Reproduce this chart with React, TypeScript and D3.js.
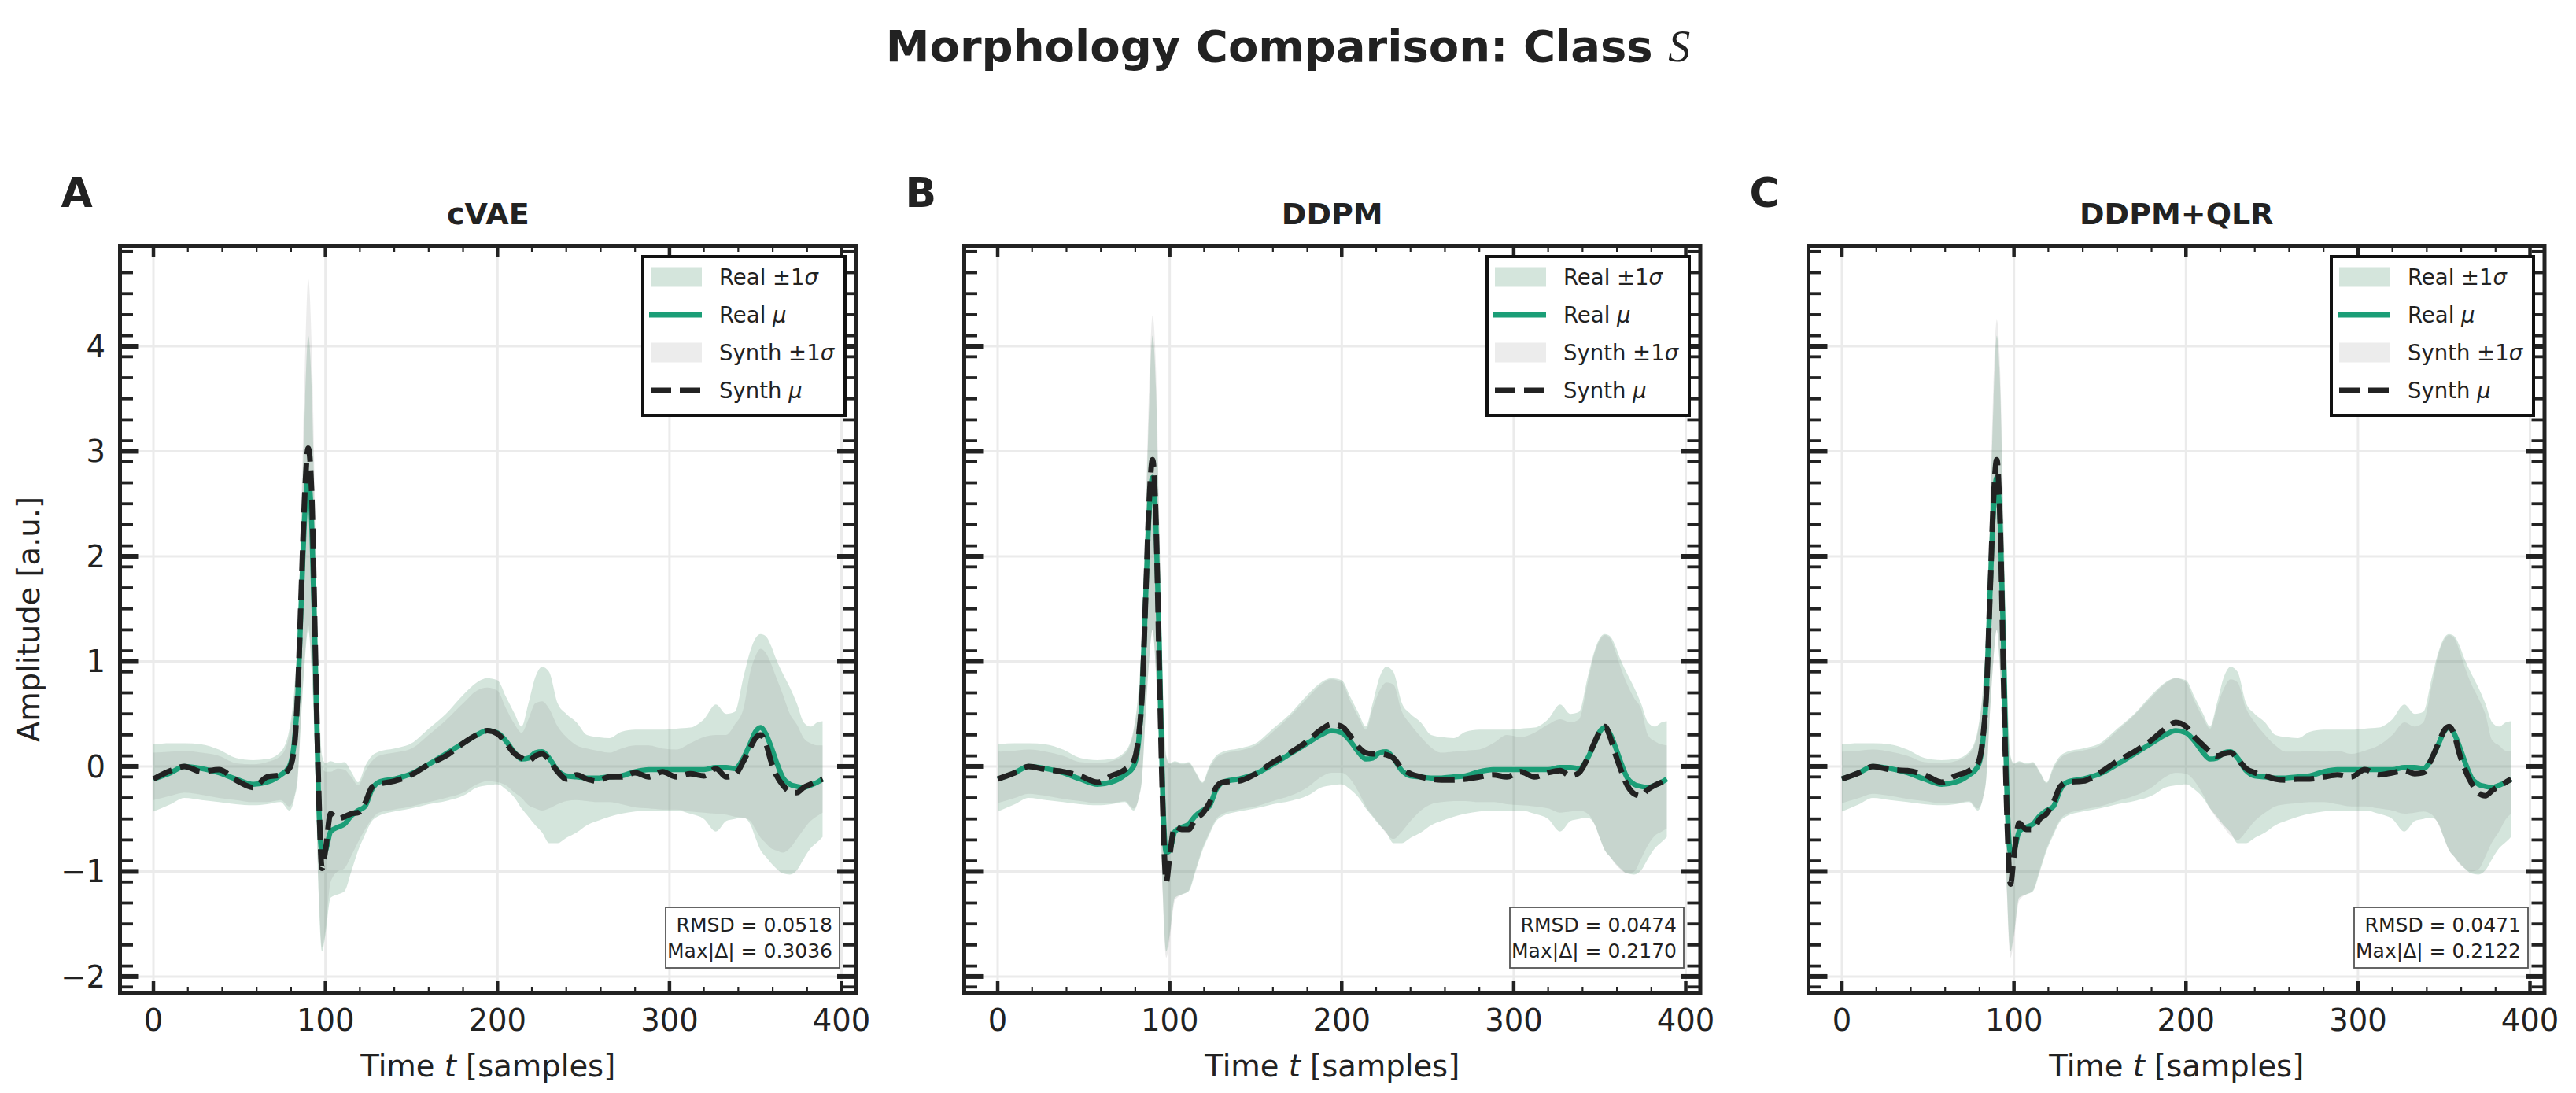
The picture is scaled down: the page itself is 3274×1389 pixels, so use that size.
import React from "react";
import * as d3 from "d3";

// ---- knot times (samples) shared by every series ----
const T = [
  0, 10, 18, 28, 38, 48, 58, 66, 74, 79,
  82, 84, 86, 88, 90, 92, 94, 96, 98, 100,
  103, 107, 111, 115, 119, 123, 127, 131, 140, 150,
  160, 170, 180, 188, 194, 200, 205, 210, 214, 218,
  222, 226, 230, 235, 240, 246, 252, 258, 265, 272,
  280, 288, 296, 304, 312, 320, 327, 333, 338, 343,
  347, 350, 353, 356, 359, 362, 366, 370, 374, 378,
  382, 386, 389,
];

// ---- real beats (same in every panel) ----
const REAL_MEAN = [
  -0.12, -0.06, 0.0, -0.02, -0.06, -0.12, -0.17, -0.15, -0.08, 0.0,
  0.25, 0.7, 1.6, 2.4, 2.75, 2.3, 1.1, -0.3, -0.82, -0.8,
  -0.62, -0.58, -0.55, -0.47, -0.42, -0.38, -0.22, -0.15, -0.12, -0.07,
  0.02, 0.12, 0.22, 0.3, 0.34, 0.32, 0.24, 0.13, 0.07, 0.08,
  0.13, 0.14, 0.08, -0.04, -0.09, -0.1, -0.11, -0.11, -0.1, -0.09,
  -0.05, -0.03, -0.03, -0.03, -0.03, -0.03, -0.01, -0.01, -0.02, 0.08,
  0.22, 0.33, 0.37, 0.31, 0.19, 0.05, -0.11, -0.17, -0.19, -0.2,
  -0.18, -0.15, -0.12,
];
const REAL_HI = [
  0.21, 0.22, 0.22, 0.21, 0.16, 0.08, 0.06, 0.07, 0.14, 0.35,
  0.75, 1.25, 2.3, 3.4, 4.1, 3.6, 2.2, 0.8, 0.1, 0.03,
  0.05, 0.03, 0.04, -0.05, -0.15, 0.0, 0.1, 0.14, 0.17, 0.22,
  0.36, 0.5, 0.68, 0.8, 0.84, 0.82, 0.66, 0.5, 0.38, 0.6,
  0.85, 0.95, 0.9, 0.6, 0.5, 0.42, 0.3, 0.28, 0.27, 0.33,
  0.35, 0.35, 0.35, 0.36, 0.37, 0.45, 0.59, 0.5, 0.52, 0.85,
  1.1, 1.22, 1.26, 1.24, 1.15, 1.02, 0.88, 0.75, 0.6, 0.42,
  0.38, 0.42, 0.43,
];
const REAL_LO = [
  -0.43, -0.36, -0.3, -0.32, -0.34, -0.36, -0.37, -0.36, -0.34, -0.42,
  -0.3, -0.1, 0.5, 1.0, 1.3, 0.9, 0.1, -1.2, -1.76, -1.6,
  -1.25, -1.22, -1.19, -1.0, -0.8, -0.65, -0.52, -0.47, -0.43, -0.4,
  -0.36, -0.33, -0.28, -0.2, -0.18, -0.17, -0.22, -0.3, -0.4, -0.48,
  -0.56, -0.63, -0.73, -0.73, -0.68, -0.63, -0.56, -0.52, -0.48, -0.45,
  -0.43, -0.42, -0.42, -0.42, -0.45, -0.5, -0.62, -0.52, -0.5, -0.49,
  -0.55, -0.68, -0.8, -0.86, -0.92, -0.97, -1.02, -1.03, -0.99, -0.88,
  -0.78, -0.72, -0.67,
];

// ---- cVAE synthetic ----
const CVAE_MEAN = [
  -0.12, -0.04, 0.0, -0.05, -0.03, -0.13, -0.2, -0.1, -0.08, -0.02,
  0.2, 0.75, 1.7, 2.6, 3.03, 2.6, 1.2, -0.2, -0.97, -0.8,
  -0.45, -0.5, -0.48, -0.45, -0.44, -0.35, -0.2, -0.17, -0.14, -0.08,
  0.02, 0.1, 0.22, 0.3, 0.34, 0.31, 0.22, 0.12, 0.08, 0.05,
  0.1, 0.12, 0.06, -0.05, -0.12, -0.08, -0.12, -0.14, -0.1, -0.1,
  -0.06, -0.1, -0.05, -0.1, -0.07, -0.09, -0.02, -0.1, -0.08, 0.05,
  0.18, 0.27, 0.3, 0.22, 0.05, -0.08, -0.18, -0.24, -0.25, -0.2,
  -0.17, -0.14, -0.12,
];
const CVAE_HI = [
  0.13, 0.14, 0.15, 0.13, 0.1, 0.03, 0.02, 0.04, 0.1, 0.3,
  0.7, 1.3, 2.5, 3.8, 4.64, 4.0, 2.4, 0.6, 0.0, -0.05,
  -0.05, -0.02, -0.03, -0.1, -0.18, -0.05, 0.05, 0.1, 0.13, 0.17,
  0.3, 0.44, 0.6, 0.72, 0.75, 0.72, 0.55, 0.4, 0.32, 0.45,
  0.6, 0.62, 0.55, 0.38, 0.28, 0.2, 0.17, 0.15, 0.13, 0.17,
  0.2, 0.2, 0.17, 0.16, 0.22, 0.28, 0.3, 0.3, 0.4, 0.55,
  0.9, 1.05, 1.12, 1.08, 0.98, 0.85, 0.68, 0.5, 0.4, 0.27,
  0.22, 0.2, 0.2,
];
const CVAE_LO = [
  -0.32, -0.28, -0.25, -0.27, -0.3, -0.32, -0.34, -0.34, -0.32, -0.38,
  -0.28, -0.05, 0.55, 1.05, 1.35, 0.95, 0.15, -1.1, -1.72, -1.55,
  -1.1, -1.0, -0.97, -0.85, -0.72, -0.6, -0.5, -0.44, -0.41, -0.38,
  -0.34, -0.3, -0.25, -0.17, -0.14, -0.15, -0.18, -0.25, -0.3, -0.37,
  -0.4, -0.42, -0.4, -0.36, -0.33, -0.32, -0.33, -0.34, -0.34, -0.36,
  -0.39, -0.4, -0.41, -0.41, -0.43, -0.44, -0.45, -0.46, -0.48, -0.49,
  -0.52, -0.6, -0.68, -0.73, -0.78, -0.8, -0.82, -0.78, -0.69, -0.6,
  -0.52, -0.47, -0.44,
];

// ---- DDPM synthetic ----
const DDPM_MEAN = [
  -0.12, -0.06, 0.0, -0.03, -0.05, -0.09, -0.15, -0.09, -0.03, 0.05,
  0.3, 0.7, 1.6, 2.5, 2.92, 2.35, 0.9, -0.4, -1.1, -0.85,
  -0.57, -0.6, -0.6, -0.5, -0.45, -0.35, -0.2, -0.15, -0.14, -0.07,
  0.04, 0.13, 0.24, 0.35, 0.4, 0.38, 0.29, 0.18, 0.13, 0.12,
  0.12, 0.11, 0.08, -0.02, -0.07, -0.1, -0.12, -0.13, -0.13, -0.12,
  -0.1, -0.08, -0.1, -0.05, -0.1, -0.06, -0.04, -0.09, -0.06, 0.08,
  0.23, 0.33, 0.38, 0.28, 0.12, -0.02, -0.18, -0.26, -0.28, -0.22,
  -0.18, -0.15, -0.12,
];
const DDPM_HI = [
  0.14, 0.15, 0.16, 0.14, 0.1, 0.04, 0.03, 0.05, 0.12, 0.32,
  0.72, 1.28, 2.4, 3.6, 4.29, 3.8, 2.3, 0.7, 0.08, 0.02,
  0.04, 0.02, 0.03, -0.06, -0.16, -0.02, 0.08, 0.12, 0.15, 0.2,
  0.33, 0.48, 0.65, 0.78, 0.83, 0.8, 0.62, 0.46, 0.35, 0.55,
  0.72, 0.8, 0.78, 0.52, 0.4, 0.28, 0.18, 0.13, 0.14, 0.15,
  0.16, 0.22, 0.3, 0.28, 0.32, 0.4, 0.45, 0.42, 0.45, 0.8,
  1.08, 1.2, 1.25, 1.22, 1.1, 0.95, 0.78, 0.65, 0.55, 0.3,
  0.24, 0.21, 0.2,
];
const DDPM_LO = [
  -0.35, -0.3, -0.26, -0.28, -0.31, -0.33, -0.35, -0.35, -0.33, -0.4,
  -0.3, -0.08, 0.5, 1.0, 1.3, 0.9, 0.1, -1.25, -1.82, -1.65,
  -1.28, -1.22, -1.18, -0.98, -0.78, -0.63, -0.5, -0.45, -0.41, -0.38,
  -0.33, -0.28, -0.2, -0.1, -0.06, -0.06, -0.12, -0.25, -0.38, -0.47,
  -0.55, -0.64, -0.69, -0.62, -0.52, -0.42, -0.36, -0.34, -0.33, -0.33,
  -0.34, -0.34, -0.36, -0.37, -0.38, -0.4, -0.44, -0.43, -0.42, -0.45,
  -0.55, -0.68, -0.8, -0.86, -0.93, -0.98, -1.02, -1.0, -0.88, -0.75,
  -0.66, -0.62, -0.59,
];

// ---- DDPM+QLR synthetic ----
const QLR_MEAN = [
  -0.12, -0.06, 0.0, -0.03, -0.04, -0.08, -0.15, -0.09, -0.04, 0.03,
  0.28, 0.7, 1.6, 2.5, 2.92, 2.3, 0.8, -0.5, -1.12, -0.85,
  -0.54, -0.6, -0.6, -0.5, -0.45, -0.34, -0.19, -0.15, -0.14, -0.06,
  0.05, 0.14, 0.25, 0.36, 0.42, 0.38, 0.28, 0.2, 0.14, 0.1,
  0.12, 0.13, 0.07, -0.02, -0.06, -0.09, -0.12, -0.13, -0.12, -0.12,
  -0.1, -0.08, -0.1, -0.03, -0.08, -0.06, -0.04, -0.07, -0.06, 0.08,
  0.23, 0.34, 0.38, 0.3, 0.12, -0.02, -0.16, -0.25, -0.28, -0.23,
  -0.19, -0.15, -0.12,
];
const QLR_HI = [
  0.14, 0.15, 0.16, 0.14, 0.1, 0.04, 0.03, 0.05, 0.12, 0.32,
  0.72, 1.28, 2.4, 3.6, 4.25, 3.75, 2.3, 0.7, 0.08, 0.02,
  0.04, 0.02, 0.03, -0.06, -0.16, -0.02, 0.08, 0.12, 0.15, 0.2,
  0.34, 0.49, 0.66, 0.79, 0.84, 0.8, 0.62, 0.46, 0.36, 0.56,
  0.74, 0.83, 0.8, 0.55, 0.42, 0.3, 0.2, 0.14, 0.14, 0.15,
  0.14, 0.15, 0.12, 0.15, 0.2, 0.3, 0.42, 0.38, 0.42, 0.78,
  1.08, 1.2, 1.25, 1.22, 1.1, 0.95, 0.78, 0.65, 0.5, 0.25,
  0.2, 0.15, 0.15,
];
const QLR_LO = [
  -0.35, -0.3, -0.26, -0.28, -0.31, -0.33, -0.35, -0.35, -0.33, -0.4,
  -0.3, -0.08, 0.5, 1.0, 1.3, 0.9, 0.1, -1.25, -1.82, -1.65,
  -1.28, -1.22, -1.18, -0.98, -0.78, -0.63, -0.5, -0.45, -0.41, -0.38,
  -0.33, -0.28, -0.2, -0.1, -0.06, -0.07, -0.14, -0.27, -0.4, -0.5,
  -0.58, -0.66, -0.7, -0.62, -0.52, -0.44, -0.38, -0.36, -0.35, -0.34,
  -0.34, -0.36, -0.38, -0.38, -0.4, -0.42, -0.45, -0.44, -0.43, -0.46,
  -0.56, -0.68, -0.8, -0.86, -0.93, -0.97, -1.0, -0.98, -0.86, -0.72,
  -0.62, -0.5, -0.45,
];

const LETTERS = ["A", "B", "C"];
const TITLES = ["cVAE", "DDPM", "DDPM+QLR"];
const RMSD = ["0.0518", "0.0474", "0.0471"];
const MAXD = ["0.3036", "0.2170", "0.2122"];
const X_TICKS = [0, 100, 200, 300, 400];
const Y_TICKS = [-2, -1, 0, 1, 2, 3, 4];

const SYNTH = [
  { mean: CVAE_MEAN, lo: CVAE_LO, hi: CVAE_HI },
  { mean: DDPM_MEAN, lo: DDPM_LO, hi: DDPM_HI },
  { mean: QLR_MEAN, lo: QLR_LO, hi: QLR_HI },
];

// ---- layout ----
const W = 3274;
const H = 1389;
const FONT = "'DejaVu Sans', sans-serif";
const INK = "#222222";
const GREEN = "#1b9e77";
const PANEL_LEFT = [152.5, 1225.5, 2298.5];
const PLOT_W = 935.5;
const TOP = 312.5;
const BOTTOM = 1261.5;

function Panel({ i }) {
  const left = PANEL_LEFT[i];
  const right = left + PLOT_W;
  const cx = (left + right) / 2;
  const x = d3.scaleLinear().domain([-19.45, 408.45]).range([left, right]);
  const y = d3.scaleLinear().domain([-2.154, 4.955]).range([BOTTOM, TOP]);
  const idx = d3.range(T.length);
  const s = SYNTH[i];

  const band = (lo, hi) =>
    d3.area().x((k) => x(T[k])).y0((k) => y(lo[k])).y1((k) => y(hi[k]))
      .curve(d3.curveMonotoneX)(idx);
  const line = (m) =>
    d3.line().x((k) => x(T[k])).y((k) => y(m[k])).curve(d3.curveMonotoneX)(idx);

  const xMinor = d3.range(-20, 420, 20).filter((v) => v > -19 && v < 408 && v % 100 !== 0);
  const yMinor = d3.range(-21, 50, 2).map((v) => v / 10).filter((v) => v > -2.15 && v < 4.95 && Math.abs(v - Math.round(v)) > 0.01);

  // legend geometry
  const lgR = right - 14;
  const lgW = 257;
  const lgL = lgR - lgW;
  const lgT = TOP + 13.5;
  const rows = [26, 74, 122, 170].map((d) => lgT + d);

  // stats box
  const sbR = right - 21;
  const sbB = BOTTOM - 31.5;
  const sbW = 221;
  const sbH = 77;

  const clipId = `clip${i}`;
  return (
    <g>
      <defs>
        <clipPath id={clipId}>
          <rect x={left} y={TOP} width={PLOT_W} height={BOTTOM - TOP} />
        </clipPath>
      </defs>

      {/* grid */}
      <g stroke="#ebebeb" strokeWidth={3}>
        {X_TICKS.map((t) => (
          <line key={"gx" + t} x1={x(t)} x2={x(t)} y1={TOP} y2={BOTTOM} />
        ))}
        {Y_TICKS.map((t) => (
          <line key={"gy" + t} x1={left} x2={right} y1={y(t)} y2={y(t)} />
        ))}
      </g>

      {/* bands and means */}
      <g clipPath={`url(#${clipId})`}>
        <path d={band(REAL_LO, REAL_HI)} fill="#5f9e7e" fillOpacity={0.27} />
        <path d={band(s.lo, s.hi)} fill="#777777" fillOpacity={0.14} />
        <path d={line(REAL_MEAN)} fill="none" stroke={GREEN} strokeWidth={6.5} strokeLinejoin="round" />
        <path d={line(s.mean)} fill="none" stroke={INK} strokeWidth={7} strokeDasharray="26 11" />
      </g>

      {/* ticks */}
      <g stroke={INK}>
        {X_TICKS.map((t) => (
          <g key={"xt" + t} strokeWidth={4.5}>
            <line x1={x(t)} x2={x(t)} y1={BOTTOM} y2={BOTTOM - 14.5} />
            <line x1={x(t)} x2={x(t)} y1={TOP} y2={TOP + 14.5} />
          </g>
        ))}
        {xMinor.map((t) => (
          <g key={"xm" + t} strokeWidth={2.2}>
            <line x1={x(t)} x2={x(t)} y1={BOTTOM} y2={BOTTOM - 7.5} />
            <line x1={x(t)} x2={x(t)} y1={TOP} y2={TOP + 7.5} />
          </g>
        ))}
        {Y_TICKS.map((t) => (
          <g key={"yt" + t} strokeWidth={6}>
            <line x1={left} x2={left + 24} y1={y(t)} y2={y(t)} />
            <line x1={right} x2={right - 24} y1={y(t)} y2={y(t)} />
          </g>
        ))}
        {yMinor.map((t) => (
          <g key={"ym" + t} strokeWidth={3.8}>
            <line x1={left} x2={left + 16.5} y1={y(t)} y2={y(t)} />
            <line x1={right} x2={right - 16.5} y1={y(t)} y2={y(t)} />
          </g>
        ))}
      </g>

      {/* spines */}
      <rect x={left} y={TOP} width={PLOT_W} height={BOTTOM - TOP} fill="none" stroke={INK} strokeWidth={5} />

      {/* tick labels */}
      <g fontSize={38.5} fill={INK} textAnchor="middle">
        {X_TICKS.map((t) => (
          <text key={"xl" + t} x={x(t)} y={1310}>{t}</text>
        ))}
      </g>
      {i === 0 && (
        <g fontSize={38.5} fill={INK} textAnchor="end">
          {Y_TICKS.map((t) => (
            <text key={"yl" + t} x={134} y={y(t) + 14}>{t < 0 ? "\u2212" + Math.abs(t) : t}</text>
          ))}
        </g>
      )}

      {/* axis labels */}
      <text x={cx} y={1368} fontSize={38.5} fill={INK} textAnchor="middle">
        Time <tspan fontStyle="italic">t</tspan> [samples]
      </text>
      {i === 0 && (
        <text transform={`translate(36,${(TOP + BOTTOM) / 2}) rotate(-90)`} fontSize={38.5} fill={INK} textAnchor="middle" dominantBaseline="central">
          Amplitude [a.u.]
        </text>
      )}

      {/* panel title and letter */}
      <text x={cx} y={285} fontSize={38} fontWeight="bold" fill={INK} textAnchor="middle">{TITLES[i]}</text>
      <text x={left - 75} y={263} fontSize={52} fontWeight="bold" fill={INK}>{LETTERS[i]}</text>

      {/* stats box */}
      <rect x={sbR - sbW} y={sbB - sbH} width={sbW} height={sbH} fill="#fff" stroke="#555" strokeWidth={1.8} />
      <g fontSize={25} fill={INK} textAnchor="end">
        <text x={sbR - 9} y={sbB - 46}>RMSD = {RMSD[i]}</text>
        <text x={sbR - 9} y={sbB - 13}>Max|Δ| = {MAXD[i]}</text>
      </g>

      {/* legend */}
      <rect x={lgL} y={lgT} width={lgW} height={202} fill="#fff" stroke="#111" strokeWidth={4} />
      <rect x={lgL + 10} y={rows[0] - 12.5} width={65} height={25} fill="#5f9e7e" fillOpacity={0.27} />
      <line x1={lgL + 8} x2={lgL + 75} y1={rows[1]} y2={rows[1]} stroke={GREEN} strokeWidth={7} />
      <rect x={lgL + 10} y={rows[2] - 12.5} width={65} height={25} fill="#777777" fillOpacity={0.14} />
      <line x1={lgL + 10} x2={lgL + 75} y1={rows[3]} y2={rows[3]} stroke={INK} strokeWidth={7} strokeDasharray="26 11" />
      <g fontSize={27.5} fill={INK}>
        <text x={lgL + 97} y={rows[0] + 10}>Real ±1<tspan fontStyle="italic">σ</tspan></text>
        <text x={lgL + 97} y={rows[1] + 10}>Real <tspan fontStyle="italic">μ</tspan></text>
        <text x={lgL + 97} y={rows[2] + 10}>Synth ±1<tspan fontStyle="italic">σ</tspan></text>
        <text x={lgL + 97} y={rows[3] + 10}>Synth <tspan fontStyle="italic">μ</tspan></text>
      </g>
    </g>
  );
}

export default function App() {
  return (
    <svg
      width={W}
      height={H}
      viewBox={`0 0 ${W} ${H}`}
      style={{ position: "absolute", left: 0, top: 0, display: "block" }}
      fontFamily={FONT}
    >
      <rect width={W} height={H} fill="#fff" />
      <text x={W / 2} y={78} fontSize={56} fontWeight="bold" fill={INK} textAnchor="middle">
        Morphology Comparison: Class{" "}
        <tspan fontFamily="'Liberation Serif', serif" fontStyle="italic" fontWeight="normal">S</tspan>
      </text>
      {[0, 1, 2].map((i) => (
        <Panel key={i} i={i} />
      ))}
    </svg>
  );
}
